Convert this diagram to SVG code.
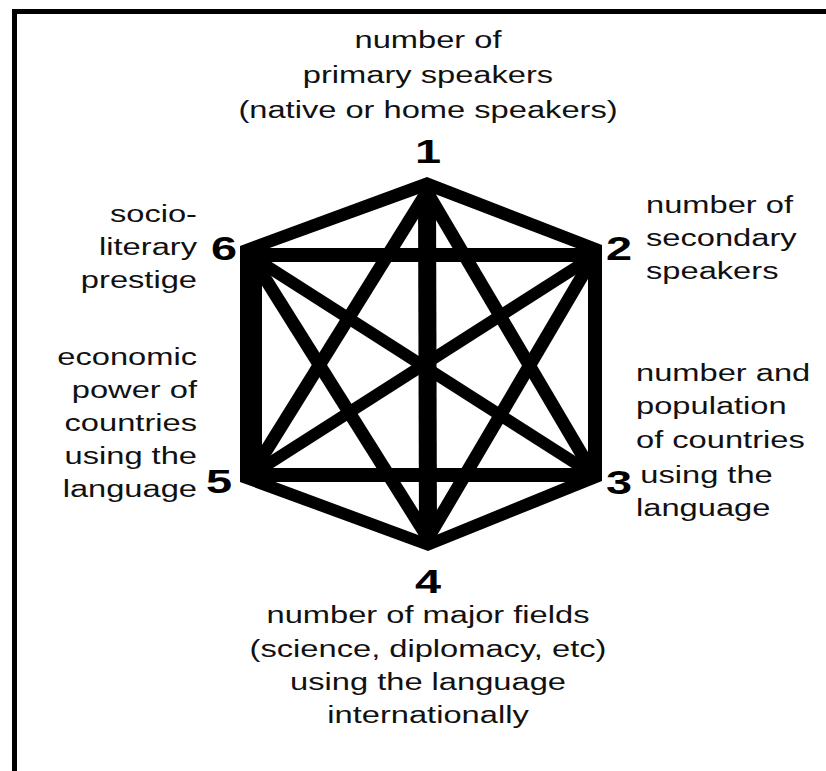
<svg xmlns="http://www.w3.org/2000/svg" width="826" height="771" viewBox="0 0 826 771">
<style>
.t{font-family:"Liberation Sans",Arial,sans-serif;font-size:23px;fill:#111}
.n{font-family:"Liberation Sans",Arial,sans-serif;font-size:33px;font-weight:bold;fill:#000}
.c{stroke:#000;fill:none;stroke-linecap:butt}
</style>
<rect width="826" height="771" fill="#fff"/>
<path d="M14.5 771 V11.5 H826" fill="none" stroke="#000" stroke-width="5"/>
<g id="connectors">
<polygon points="427,177 602,245 602,481 428,551 240,482 240,246" fill="#000"/>
<polygon points="427,191 588,252.5 588,472.7 427.7,538.5 262,477 262,250.8" fill="#fff"/>
<line class="c" x1="427" y1="190" x2="428" y2="540" stroke-width="18"/>
<line class="c" x1="242" y1="255" x2="600" y2="255" stroke-width="14"/>
<line class="c" x1="242" y1="475" x2="600" y2="475" stroke-width="14"/>
<line class="c" x1="251" y1="256" x2="594" y2="475" stroke-width="12"/>
<line class="c" x1="594" y1="256" x2="251" y2="475" stroke-width="12"/>
<line class="c" x1="427" y1="192" x2="594" y2="475" stroke-width="13"/>
<line class="c" x1="427" y1="192" x2="251" y2="475" stroke-width="13"/>
<line class="c" x1="594" y1="256" x2="428" y2="538" stroke-width="13"/>
<line class="c" x1="251" y1="256" x2="428" y2="538" stroke-width="13"/>
</g>
<g id="node1">
<g transform="translate(428 0) scale(1.42 1)">
<text class="t" x="0" y="48" text-anchor="middle">number of</text>
<text class="t" x="0" y="83" text-anchor="middle">primary speakers</text>
<text class="t" x="0" y="118" text-anchor="middle">(native or home speakers)</text>
<text class="n" x="0" y="163" text-anchor="middle">1</text>
</g>
</g>
<g id="node2">
<g transform="translate(606 0) scale(1.42 1)">
<text class="n" x="0" y="260">2</text>
</g>
<g transform="translate(646 0) scale(1.42 1)">
<text class="t" x="0" y="213">number of</text>
<text class="t" x="0" y="246">secondary</text>
<text class="t" x="0" y="279">speakers</text>
</g>
</g>
<g id="node3">
<g transform="translate(606 0) scale(1.42 1)">
<text class="n" x="0" y="494">3</text>
</g>
<g transform="translate(636 0) scale(1.42 1)">
<text class="t" x="0" y="381">number and</text>
<text class="t" x="0" y="414">population</text>
<text class="t" x="0" y="448">of countries</text>
<text class="t" x="3" y="483">using the</text>
<text class="t" x="0" y="516">language</text>
</g>
</g>
<g id="node4">
<g transform="translate(428 0) scale(1.42 1)">
<text class="n" x="0" y="593" text-anchor="middle">4</text>
<text class="t" x="0" y="623" text-anchor="middle">number of major fields</text>
<text class="t" x="0" y="657" text-anchor="middle">(science, diplomacy, etc)</text>
<text class="t" x="0" y="690" text-anchor="middle">using the language</text>
<text class="t" x="0" y="723" text-anchor="middle">internationally</text>
</g>
</g>
<g id="node5">
<g transform="translate(232 0) scale(1.42 1)">
<text class="n" x="0" y="493" text-anchor="end">5</text>
</g>
<g transform="translate(197 0) scale(1.42 1)">
<text class="t" x="0" y="365" text-anchor="end">economic</text>
<text class="t" x="0" y="398" text-anchor="end">power of</text>
<text class="t" x="0" y="431" text-anchor="end">countries</text>
<text class="t" x="0" y="464" text-anchor="end">using the</text>
<text class="t" x="0" y="497" text-anchor="end">language</text>
</g>
</g>
<g id="node6">
<g transform="translate(237 0) scale(1.42 1)">
<text class="n" x="0" y="260" text-anchor="end">6</text>
</g>
<g transform="translate(197 0) scale(1.42 1)">
<text class="t" x="0" y="222" text-anchor="end">socio-</text>
<text class="t" x="0" y="255" text-anchor="end">literary</text>
<text class="t" x="0" y="288" text-anchor="end">prestige</text>
</g>
</g>
</svg>
